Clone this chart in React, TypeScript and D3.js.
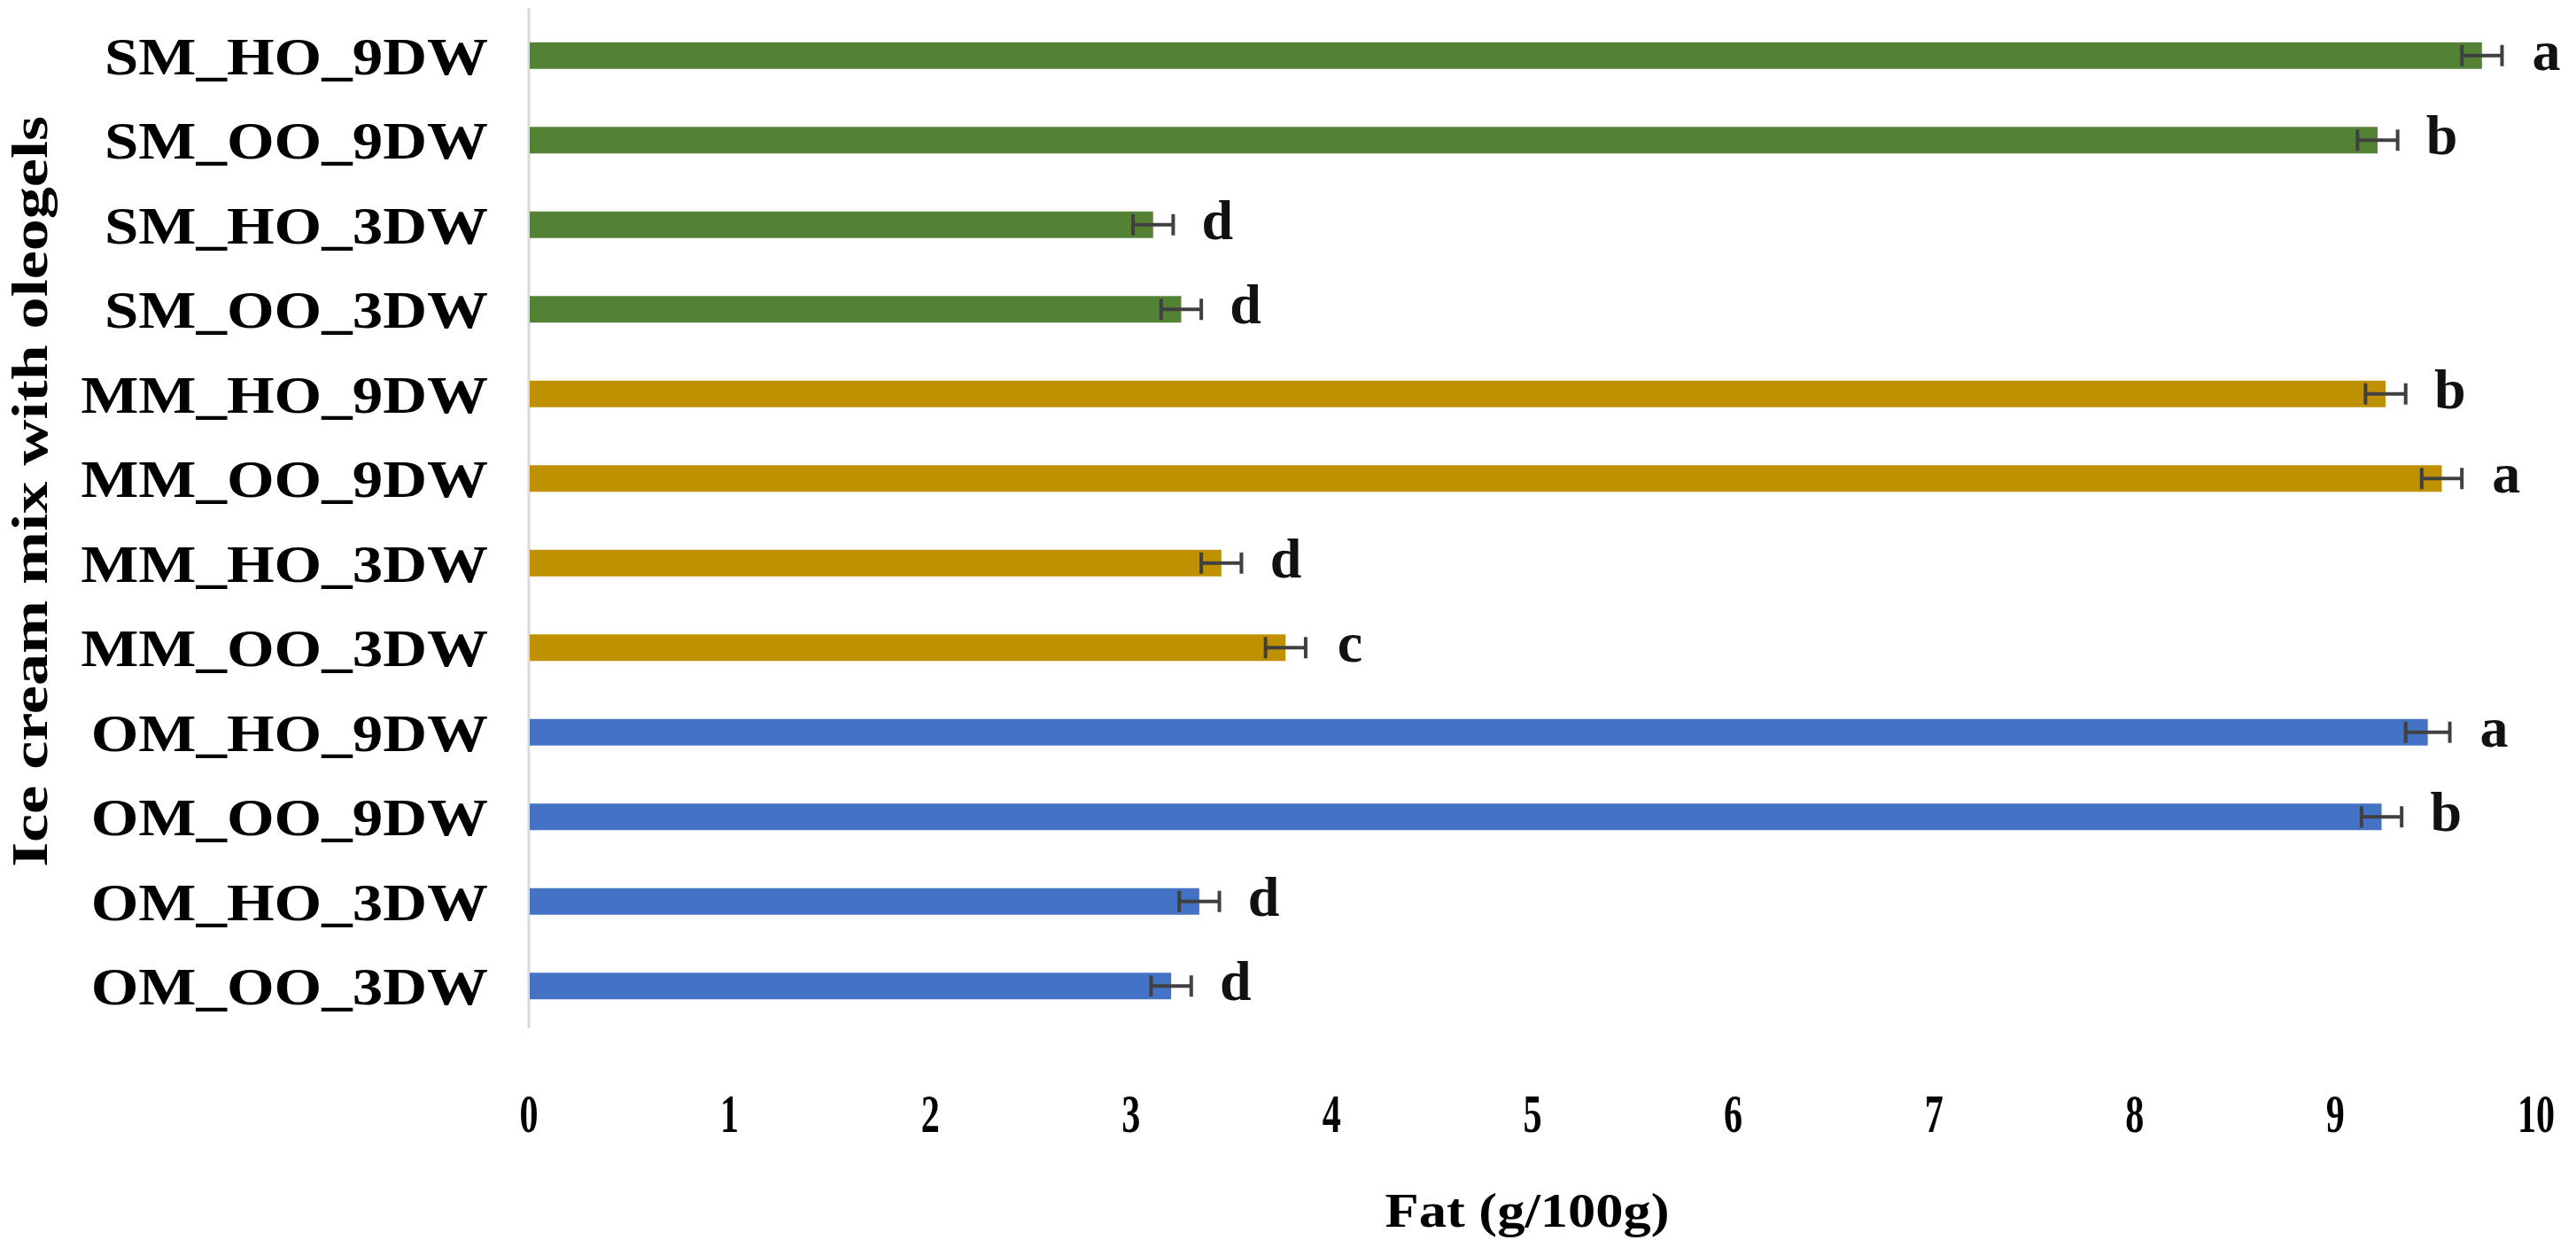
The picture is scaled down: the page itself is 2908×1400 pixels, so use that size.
import React, { useEffect, useRef } from 'react';
import * as d3 from 'd3';

// categories from top to bottom, as in the figure
const categories = [
  'SM_HO_9DW', 'SM_OO_9DW', 'SM_HO_3DW', 'SM_OO_3DW',
  'MM_HO_9DW', 'MM_OO_9DW', 'MM_HO_3DW', 'MM_OO_3DW',
  'OM_HO_9DW', 'OM_OO_9DW', 'OM_HO_3DW', 'OM_OO_3DW',
];
const fatValues = [9.73, 9.21, 3.11, 3.25, 9.25, 9.53, 3.45, 3.77, 9.46, 9.23, 3.34, 3.20];
const fatErrors = [0.1, 0.1, 0.1, 0.1, 0.1, 0.1, 0.1, 0.1, 0.11, 0.1, 0.1, 0.1];
const letters = ['a', 'b', 'd', 'd', 'b', 'a', 'd', 'c', 'a', 'b', 'd', 'd'];
const xTicks = [0, 1, 2, 3, 4, 5, 6, 7, 8, 9, 10];
const groupColors: Record<string, string> = { SM: '#548235', MM: '#BF9000', OM: '#4472C4' };

const W = 2908;
const H = 1400;
const serif = "'Liberation Serif', 'Times New Roman', serif";

export default function App() {
  const svgRef = useRef<SVGSVGElement>(null);

  useEffect(() => {
    document.body.style.margin = '0';
    if (!svgRef.current) return;
    const svg = d3.select(svgRef.current);
    svg.selectAll('*').remove();

    svg.append('rect').attr('width', W).attr('height', H).attr('fill', '#ffffff');

    const rows = categories.map((c, i) => ({
      name: c,
      value: fatValues[i],
      err: fatErrors[i],
      letter: letters[i],
      color: groupColors[c.slice(0, 2)],
    }));

    const x = d3.scaleLinear().domain([0, 10]).range([597, 2863]);
    const y = d3.scaleBand<string>()
      .domain(categories)
      .range([15, 1161])
      .paddingInner(0.686)
      .paddingOuter(0.343);

    // vertical category axis line
    svg.append('line')
      .attr('x1', x(0)).attr('x2', x(0))
      .attr('y1', y.range()[0] - 6).attr('y2', y.range()[1])
      .attr('stroke', '#d9d9d9')
      .attr('stroke-width', 3);

    // bars
    svg.selectAll('.bar')
      .data(rows)
      .enter().append('rect')
      .attr('x', x(0) + 1)
      .attr('y', d => y(d.name)!)
      .attr('width', d => x(d.value) - x(0) - 1)
      .attr('height', y.bandwidth())
      .attr('fill', d => d.color);

    // error bars
    const eb = svg.selectAll('.err')
      .data(rows)
      .enter().append('g')
      .attr('transform', d => `translate(0,${y(d.name)! + y.bandwidth() / 2})`)
      .attr('stroke', '#404040')
      .attr('stroke-width', 4);
    eb.append('line')
      .attr('x1', d => x(d.value - d.err)).attr('x2', d => x(d.value + d.err))
      .attr('y1', 0).attr('y2', 0);
    eb.append('line')
      .attr('x1', d => x(d.value - d.err)).attr('x2', d => x(d.value - d.err))
      .attr('y1', -12).attr('y2', 12);
    eb.append('line')
      .attr('x1', d => x(d.value + d.err)).attr('x2', d => x(d.value + d.err))
      .attr('y1', -12).attr('y2', 12);

    // significance letters
    svg.selectAll('.letter')
      .data(rows)
      .enter().append('text')
      .attr('x', d => x(d.value + d.err) + 50)
      .attr('y', d => y(d.name)! + y.bandwidth() / 2 + 16)
      .attr('text-anchor', 'middle')
      .attr('font-family', serif)
      .attr('font-weight', 700)
      .attr('font-size', 64)
      .attr('fill', '#111')
      .text(d => d.letter);

    // category labels
    svg.selectAll('.cat')
      .data(rows)
      .enter().append('text')
      .attr('transform', d => `translate(551,${y(d.name)! + y.bandwidth() / 2 + 21}) scale(1.15,1)`)
      .attr('text-anchor', 'end')
      .attr('font-family', serif)
      .attr('font-weight', 700)
      .attr('font-size', 60)
      .attr('fill', '#000')
      .text(d => d.name);

    // x tick labels
    svg.selectAll('.tick')
      .data(xTicks)
      .enter().append('text')
      .attr('transform', d => `translate(${x(d)},1278) scale(0.68,1)`)
      .attr('text-anchor', 'middle')
      .attr('font-family', serif)
      .attr('font-weight', 700)
      .attr('font-size', 62)
      .attr('fill', '#000')
      .text(d => String(d));

    // x axis title
    svg.append('text')
      .attr('x', 1724)
      .attr('y', 1385)
      .attr('text-anchor', 'middle')
      .attr('font-family', serif)
      .attr('font-weight', 700)
      .attr('font-size', 54)
      .attr('textLength', 321)
      .attr('lengthAdjust', 'spacingAndGlyphs')
      .attr('fill', '#000')
      .text('Fat (g/100g)');

    // y axis title
    svg.append('text')
      .attr('transform', `translate(53,${(y.range()[0] + y.range()[1]) / 2 - 33}) rotate(-90)`)
      .attr('text-anchor', 'middle')
      .attr('font-family', serif)
      .attr('font-weight', 700)
      .attr('font-size', 58)
      .attr('textLength', 848)
      .attr('lengthAdjust', 'spacingAndGlyphs')
      .attr('fill', '#000')
      .text('Ice cream mix with oleogels');
  }, []);

  return <svg ref={svgRef} width={W} height={H} viewBox={`0 0 ${W} ${H}`} style={{ display: 'block' }} />;
}
